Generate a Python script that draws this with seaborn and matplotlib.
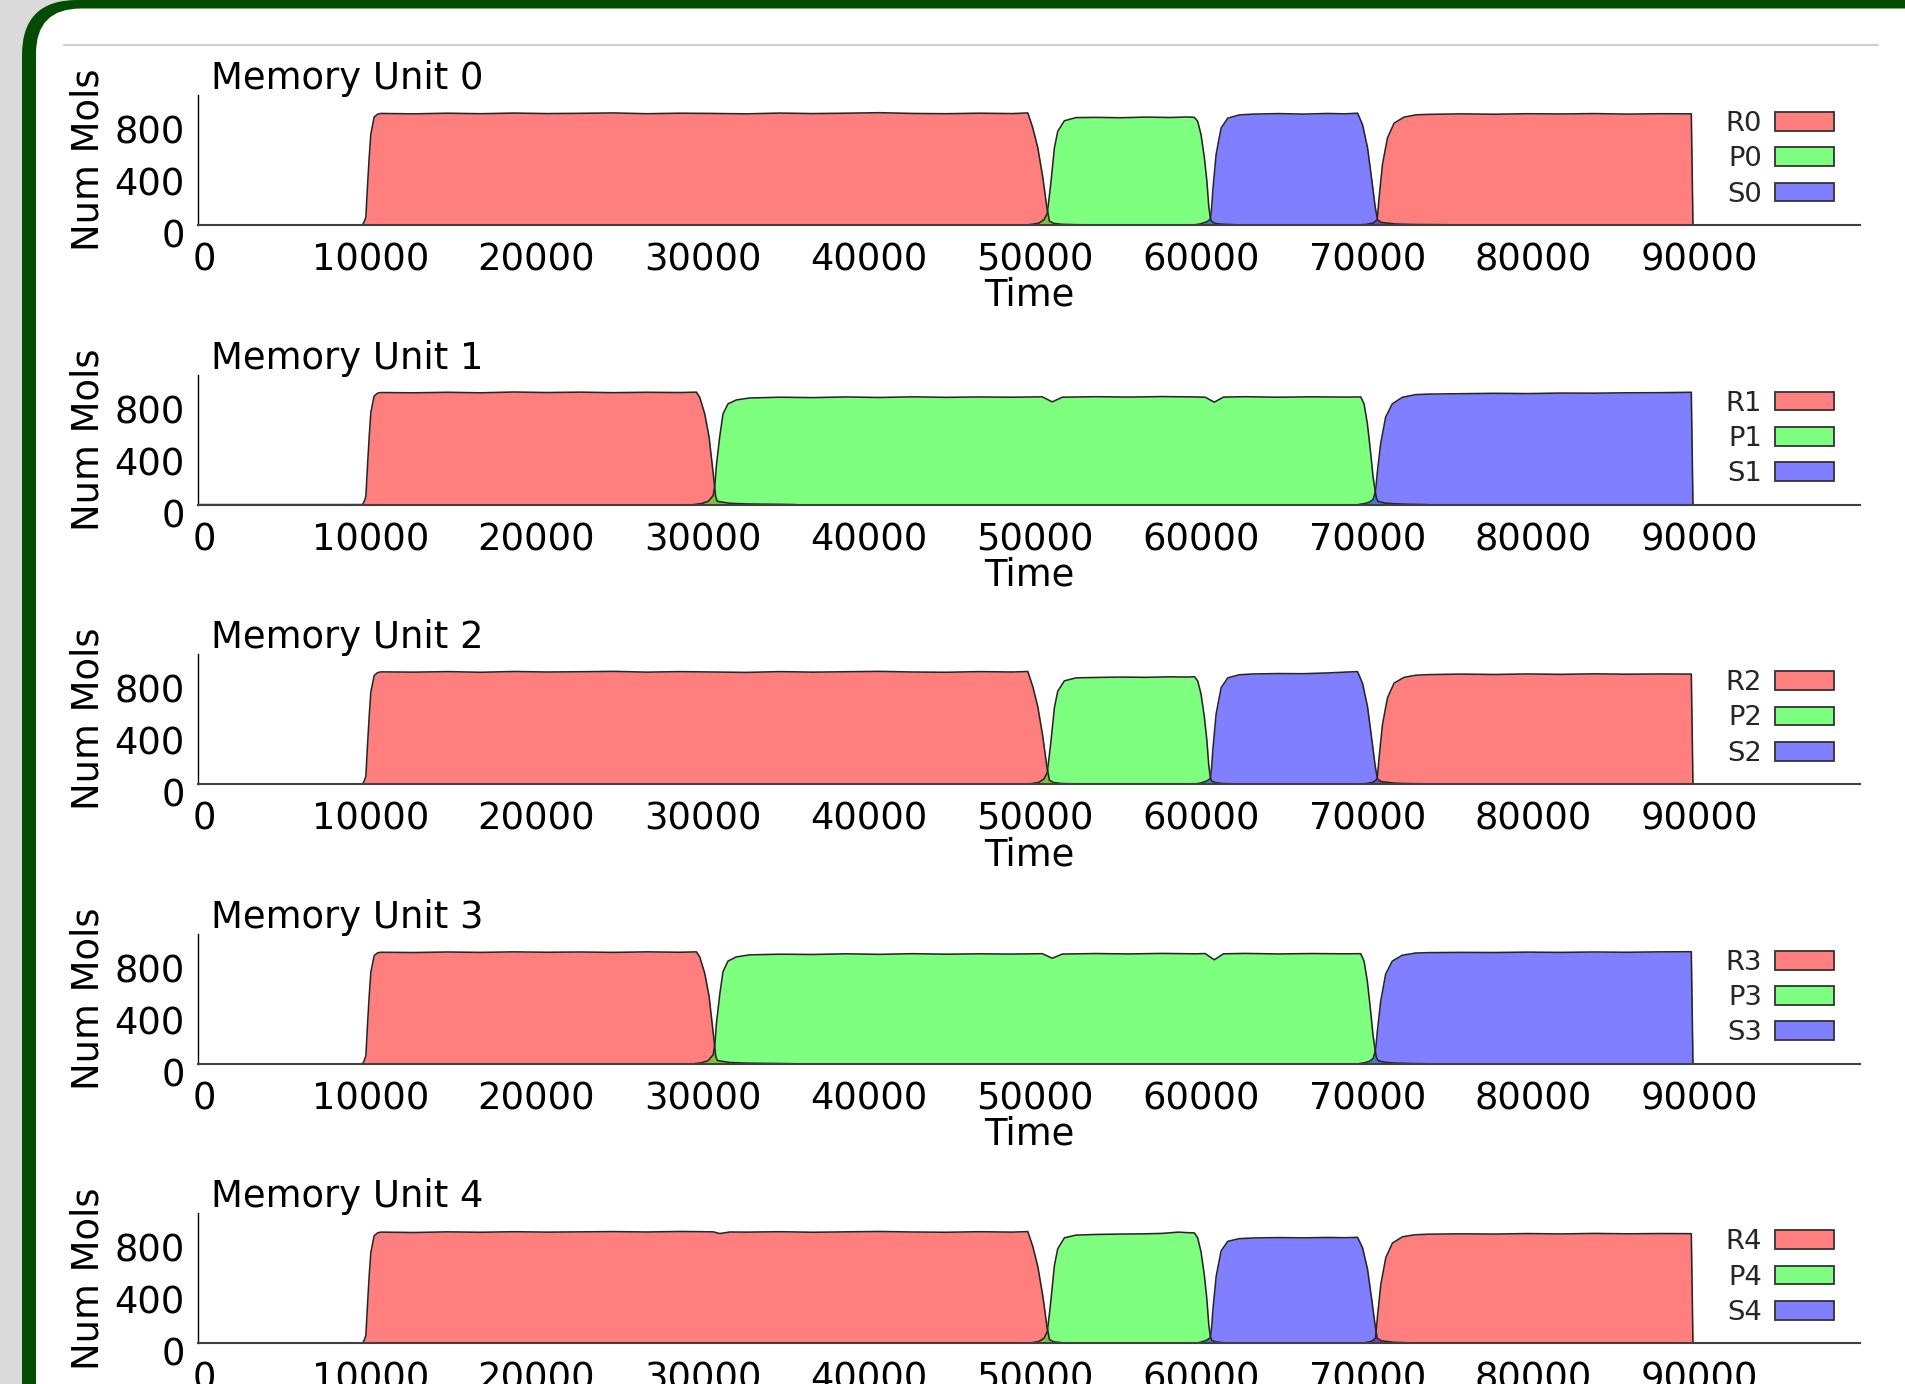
import matplotlib
matplotlib.use("Agg")
import matplotlib.pyplot as plt
import numpy as np
import pandas as pd
import seaborn as sns
from matplotlib.patches import FancyBboxPatch, Patch
from matplotlib.lines import Line2D
from matplotlib.transforms import IdentityTransform, ScaledTranslation

# ---------------- data ----------------
UNIT_TITLES = ["Memory Unit 0", "Memory Unit 1", "Memory Unit 2", "Memory Unit 3", "Memory Unit 4"]
X_TICKS = [0, 10000, 20000, 30000, 40000, 50000, 60000, 70000, 80000, 90000]
Y_TICKS = [0, 400, 800]
X_LABEL = "Time"
Y_LABEL = "Num Mols"

# (time, count) pairs for each species
R0 = [(0, 0), (9800, 0), (9900, 0), (10000, 25), (10100, 60), (10200, 300), (10300, 520), (10400, 700), (10600, 830),
      (10800, 852), (11000, 858), (13000, 855), (15000, 860), (17000, 856), (19000, 861), (21000, 857), (23000, 859),
      (25000, 862), (27000, 856), (29000, 860), (31000, 858), (33000, 855), (35000, 861), (37000, 857), (39000, 860),
      (41000, 864), (43000, 858), (45000, 856), (47000, 860), (49000, 857), (49930, 862), (50230, 746), (50530, 594),
      (50830, 367), (51070, 139), (51230, 30), (51500, 12), (52000, 5), (53000, 2), (54000, 0), (69800, 0),
      (70300, 5), (70700, 15), (70950, 40), (71070, 215), (71270, 468), (71570, 670), (71970, 784), (72570, 830),
      (73270, 847), (74000, 851), (76000, 855), (78000, 852), (80000, 856), (82000, 854), (84000, 857),
      (86000, 853), (88000, 856), (89850, 855), (89950, 0)]
P0 = [(49800, 0), (50200, 5), (50600, 15), (50900, 40), (51100, 90), (51250, 250), (51330, 341), (51530, 594),
      (51730, 721), (52130, 802), (52830, 826), (54000, 828), (55500, 825), (57000, 830), (58500, 827), (59500, 831),
      (59950, 828), (60150, 797), (60350, 696), (60550, 519), (60700, 341), (60820, 139), (60920, 45), (61000, 25),
      (61200, 12), (61600, 6), (62200, 3), (63000, 0)]
S0 = [(59900, 0), (60300, 8), (60700, 25), (60920, 45), (61000, 150), (61060, 266), (61260, 545), (61560, 746),
      (61960, 822), (62660, 847), (63500, 853), (65000, 857), (66500, 853), (68000, 858), (69000, 855), (69770, 860),
      (70070, 771), (70370, 594), (70630, 341), (70830, 139), (70970, 40), (71200, 20), (72000, 8), (73000, 4),
      (75000, 2), (76000, 0)]

R1 = [(0, 0), (9800, 0), (9900, 0), (10000, 25), (10100, 60), (10200, 300), (10300, 520), (10400, 710), (10600, 835),
      (10800, 857), (11000, 862), (13000, 860), (15000, 864), (17000, 860), (19000, 866), (21000, 862), (23000, 865),
      (25000, 861), (27000, 864), (29000, 862), (29990, 865), (30190, 825), (30490, 698), (30750, 521), (30930, 317),
      (31050, 180), (31150, 60), (31250, 25), (32000, 10), (33000, 5), (35000, 2), (36000, 0)]
P1 = [(29800, 0), (30300, 8), (30700, 25), (31000, 70), (31100, 150), (31190, 300), (31390, 521), (31590, 698),
      (31890, 775), (32390, 805), (33190, 820), (35000, 826), (37000, 823), (39000, 828), (41000, 824), (43000, 829),
      (45000, 825), (47000, 828), (49000, 826), (50800, 829), (51400, 790), (52000, 826), (54000, 830), (56000, 827),
      (58000, 831), (60000, 828), (60600, 826), (61150, 788), (61700, 827), (63000, 830), (65000, 826), (67000, 829),
      (69000, 827), (69960, 828), (70160, 775), (70360, 622), (70560, 394), (70700, 216), (70800, 130), (70900, 50),
      (71000, 25), (71400, 12), (72000, 6), (73000, 2), (74000, 0)]
S1 = [(69800, 0), (70200, 8), (70500, 20), (70700, 40), (70800, 80), (70870, 125), (70960, 250), (71160, 470),
      (71460, 673), (71860, 775), (72460, 825), (73260, 846), (74000, 850), (76000, 853), (78000, 856), (80000, 854),
      (82000, 858), (84000, 857), (86000, 860), (88000, 861), (89850, 864), (89950, 0)]

R2 = [(0, 0), (9800, 0), (9900, 0), (10000, 25), (10100, 60), (10200, 300), (10300, 520), (10400, 710), (10600, 835),
      (10800, 858), (11000, 864), (13000, 862), (15000, 866), (17000, 861), (19000, 867), (21000, 863), (23000, 865),
      (25000, 868), (27000, 862), (29000, 866), (31000, 863), (33000, 860), (35000, 866), (37000, 862), (39000, 865),
      (41000, 868), (43000, 863), (45000, 861), (47000, 866), (49000, 863), (49930, 867), (50230, 750), (50530, 596),
      (50830, 368), (51070, 139), (51230, 30), (51500, 12), (52000, 5), (53000, 2), (54000, 0), (69800, 0),
      (70300, 5), (70700, 15), (70950, 40), (71070, 210), (71270, 460), (71570, 665), (71970, 778), (72570, 822),
      (73270, 838), (74000, 843), (76000, 847), (78000, 844), (80000, 848), (82000, 845), (84000, 849),
      (86000, 846), (88000, 848), (89850, 847), (89950, 0)]
P2 = [(49800, 0), (50200, 5), (50600, 15), (50900, 40), (51100, 90), (51250, 250), (51330, 340), (51530, 590),
      (51730, 715), (52130, 795), (52830, 818), (54000, 821), (55500, 824), (57000, 822), (58500, 826), (59500, 824),
      (59950, 827), (60150, 795), (60350, 694), (60550, 517), (60700, 340), (60820, 139), (60920, 45), (61000, 25),
      (61200, 12), (61600, 6), (62200, 3), (63000, 0)]
S2 = [(59900, 0), (60300, 8), (60700, 25), (60920, 45), (61000, 150), (61060, 262), (61260, 540), (61560, 742),
      (61960, 818), (62660, 842), (63500, 848), (65000, 851), (66500, 850), (68000, 856), (69000, 862), (69770, 866),
      (70070, 775), (70370, 596), (70630, 341), (70830, 139), (70970, 40), (71200, 20), (72000, 8), (73000, 4),
      (75000, 2), (76000, 0)]

R3 = [(0, 0), (9800, 0), (9900, 0), (10000, 25), (10100, 60), (10200, 300), (10300, 520), (10400, 705), (10600, 832),
      (10800, 853), (11000, 858), (13000, 856), (15000, 860), (17000, 857), (19000, 861), (21000, 858), (23000, 860),
      (25000, 857), (27000, 861), (29000, 858), (29990, 861), (30190, 822), (30490, 696), (30750, 520), (30930, 316),
      (31050, 180), (31150, 60), (31250, 25), (32000, 10), (33000, 5), (35000, 2), (36000, 0)]
P3 = [(29800, 0), (30300, 8), (30700, 25), (31000, 70), (31100, 150), (31190, 305), (31390, 530), (31590, 710),
      (31890, 790), (32390, 822), (33190, 838), (35000, 843), (37000, 841), (39000, 846), (41000, 842), (43000, 847),
      (45000, 843), (47000, 846), (49000, 844), (50800, 847), (51400, 812), (52000, 844), (54000, 848), (56000, 845),
      (58000, 849), (60000, 846), (60600, 848), (61150, 800), (61700, 846), (63000, 849), (65000, 845), (67000, 848),
      (69000, 846), (69960, 847), (70160, 790), (70360, 632), (70560, 400), (70700, 218), (70800, 130), (70900, 50),
      (71000, 25), (71400, 12), (72000, 6), (73000, 2), (74000, 0)]
S3 = [(69800, 0), (70200, 8), (70500, 20), (70700, 40), (70800, 80), (70870, 125), (70960, 250), (71160, 480),
      (71460, 690), (71860, 790), (72460, 835), (73260, 852), (74000, 855), (76000, 857), (78000, 856), (80000, 859),
      (82000, 857), (84000, 860), (86000, 858), (88000, 861), (89850, 862), (89950, 0)]

R4 = [(0, 0), (9800, 0), (9900, 0), (10000, 25), (10100, 60), (10200, 300), (10300, 520), (10400, 700), (10600, 828),
      (10800, 850), (11000, 856), (13000, 853), (15000, 858), (17000, 855), (19000, 859), (21000, 856), (23000, 858),
      (25000, 860), (27000, 857), (29000, 861), (31000, 858), (31400, 845), (32000, 857), (33000, 856), (35000, 859),
      (37000, 855), (39000, 858), (41000, 861), (43000, 857), (45000, 855), (47000, 859), (49000, 856), (49930, 860),
      (50230, 745), (50530, 592), (50830, 366), (51070, 139), (51230, 30), (51500, 12), (52000, 5), (53000, 2),
      (54000, 0), (69800, 0), (70200, 5), (70600, 15), (70850, 40), (70970, 210), (71170, 455), (71470, 660),
      (71870, 772), (72470, 820), (73170, 835), (74000, 840), (76000, 843), (78000, 841), (80000, 845),
      (82000, 842), (84000, 846), (86000, 843), (88000, 845), (89850, 844), (89950, 0)]
P4 = [(49800, 0), (50200, 5), (50600, 15), (50900, 40), (51100, 90), (51250, 250), (51330, 345), (51530, 600),
      (51730, 728), (52130, 812), (52830, 833), (54000, 838), (55500, 841), (57000, 843), (58000, 846), (59000, 856),
      (59500, 852), (59950, 850), (60150, 812), (60350, 705), (60550, 524), (60700, 343), (60820, 139), (60920, 45),
      (61000, 25), (61200, 12), (61600, 6), (62200, 3), (63000, 0)]
S4 = [(59900, 0), (60300, 8), (60700, 25), (60920, 45), (61000, 140), (61060, 250), (61260, 515), (61560, 712),
      (61960, 785), (62660, 806), (63500, 811), (65000, 814), (66500, 812), (68000, 815), (69000, 813), (69770, 816),
      (70070, 735), (70370, 570), (70630, 330), (70830, 135), (70950, 40), (71200, 20), (72000, 8), (73000, 4),
      (75000, 2), (76000, 0)]

UNIT_SERIES = [[("R0", R0), ("P0", P0), ("S0", S0)],
               [("R1", R1), ("P1", P1), ("S1", S1)],
               [("R2", R2), ("P2", P2), ("S2", S2)],
               [("R3", R3), ("P3", P3), ("S3", S3)],
               [("R4", R4), ("P4", P4), ("S4", S4)]]

# ---------------- style ----------------
FILL_COLORS = [(1, 0, 0, 0.5), (0, 1, 0, 0.5), (0, 0, 1, 0.5)]
OUTLINE = "#262626"
FS = 26.6
LEG_FS = 19.7

sns.set_theme(style="white")
plt.rcParams["font.family"] = ["DejaVu Sans"]
plt.rcParams["font.size"] = FS

W, H = 1906, 1384
DPI = 100
fig = plt.figure(figsize=(W / DPI, H / DPI), dpi=DPI)
fig.patch.set_facecolor("#dadada")

# page decoration: dark green rounded frame, white panel, thin separator
frame = FancyBboxPatch((22, -400), 2400, H + 400, boxstyle="round,pad=0,rounding_size=55",
                       transform=IdentityTransform(), facecolor="#034c04", edgecolor="none", zorder=-10)
panel = FancyBboxPatch((36, -400), 2400, H - 8.5 + 400, boxstyle="round,pad=0,rounding_size=45",
                       transform=IdentityTransform(), facecolor="white", edgecolor="none", zorder=-9)
fig.add_artist(frame)
fig.add_artist(panel)
fig.add_artist(Line2D([64, 1878], [H - 45, H - 45], transform=IdentityTransform(),
                      color="#cfcfcf", lw=1.5, zorder=-8))

AX_LEFT, AX_RIGHT = 198, 1860
BASE0, STEP, AX_H = 225, 279.6, 130

offx = ScaledTranslation(6 / DPI, 0, fig.dpi_scale_trans)
offy = ScaledTranslation(0, -8 / DPI, fig.dpi_scale_trans)

for i, (title, series) in enumerate(zip(UNIT_TITLES, UNIT_SERIES)):
    base = BASE0 + i * STEP
    ax = fig.add_axes([AX_LEFT / W, (H - base) / H, (AX_RIGHT - AX_LEFT) / W, AX_H / H])
    ax.set_facecolor("none")
    ax.set_axisbelow(True)
    handles = []
    for (name, pts), col in zip(series, FILL_COLORS):
        df = pd.DataFrame(pts, columns=["Time", "Mols"])
        ax.fill_between(df["Time"], 0, df["Mols"], color=col, linewidth=0, zorder=1)
        sns.lineplot(data=df, x="Time", y="Mols", ax=ax, color=OUTLINE, lw=1.15,
                     estimator=None, sort=False, legend=False, zorder=2)
        handles.append(Patch(facecolor=col, edgecolor="#333333", linewidth=1.3, label=name))

    ax.set_xlim(0, 100000)
    ax.set_ylim(0, 1000)
    ax.set_xticks(X_TICKS)
    ax.set_xticklabels([str(t) for t in X_TICKS])
    ax.set_yticks(Y_TICKS)
    ax.set_yticklabels([str(t) for t in Y_TICKS])
    ax.tick_params(axis="both", direction="in", length=7.2, width=0.8, color="black",
                   labelsize=FS, labelcolor="black")
    ax.tick_params(axis="x", pad=12.0)
    ax.tick_params(axis="y", pad=9.4)
    for lab in ax.get_xticklabels():
        lab.set_transform(lab.get_transform() + offx)
    for lab in ax.get_yticklabels():
        lab.set_transform(lab.get_transform() + offy)

    for s in ["top", "right"]:
        ax.spines[s].set_visible(False)
    ax.spines["left"].set_color("black")
    ax.spines["left"].set_linewidth(1.0)
    ax.spines["bottom"].set_color("#404040")
    ax.spines["bottom"].set_linewidth(1.5)

    ax.set_title(title, loc="left", x=0.008, pad=4.3, fontsize=FS, color="black")
    ax.set_xlabel(X_LABEL, fontsize=FS, color="black")
    ax.xaxis.set_label_coords(0.5, -0.40)
    ax.set_ylabel(Y_LABEL, fontsize=FS, color="black")
    ax.yaxis.set_label_coords(-0.055, 0.5)

    ax.legend(handles=handles, loc="upper right", bbox_to_anchor=(0.9844, 0.877),
              frameon=False, fontsize=LEG_FS, markerfirst=False, borderaxespad=0, borderpad=0,
              handlelength=2.15, handleheight=0.67, handletextpad=0.48, labelspacing=0.34)

fig.savefig("out.png", dpi=DPI)
